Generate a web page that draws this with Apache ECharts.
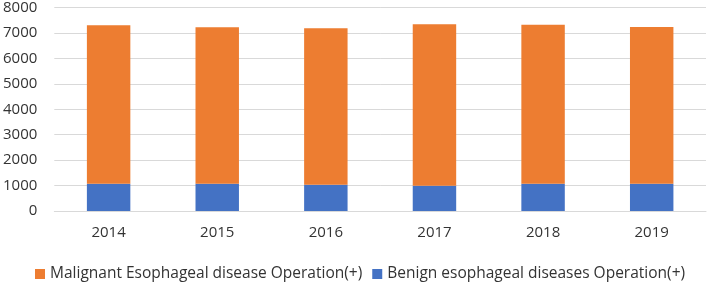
<!DOCTYPE html>
<html><head><meta charset="utf-8">
<script src="https://cdn.jsdelivr.net/npm/echarts@6/dist/echarts.min.js"></script>
<style>html,body{margin:0;padding:0;background:#fff}#c{width:708px;height:283px}</style>
</head><body><div id="c"></div>
<script>
const categories = ['2014','2015','2016','2017','2018','2019'];
const benign = [1070, 1070, 1030, 990, 1070, 1070];
const malignant = [6230, 6150, 6150, 6350, 6250, 6165];
const yTicks = [0, 1000, 2000, 3000, 4000, 5000, 6000, 7000, 8000];

const font = 'Open Sans';
const chart = echarts.init(document.getElementById('c'));
chart.setOption({
  animation: false,
  grid: { left: 52, right: 2, top: 6, bottom: 72, containLabel: false },
  legend: {
    top: 261, left: 30, itemWidth: 10, itemHeight: 10, itemGap: 10,
    textStyle: { fontFamily: font, fontSize: 15.5, color: '#333333' },
    icon: 'rect',
    data: ['Malignant Esophageal disease Operation(+)', 'Benign esophageal diseases Operation(+)']
  },
  xAxis: {
    type: 'category', data: categories,
    axisLine: { lineStyle: { color: '#d9d9d9', width: 1 } },
    axisTick: { show: false },
    axisLabel: { fontFamily: font, fontSize: 15, color: '#333333', margin: 14 }
  },
  yAxis: {
    type: 'value', min: yTicks[0], max: yTicks[yTicks.length-1], interval: 1000,
    axisLine: { show: false }, axisTick: { show: false },
    splitLine: { lineStyle: { color: '#d9d9d9', width: 1 } },
    axisLabel: { fontFamily: font, fontSize: 15, color: '#333333', margin: 17,
      formatter: v => String(v) }
  },
  series: [
    { name: 'Benign esophageal diseases Operation(+)', type: 'bar', stack: 't', data: benign,
      barWidth: '40%', itemStyle: { color: '#4472c4' } },
    { name: 'Malignant Esophageal disease Operation(+)', type: 'bar', stack: 't', data: malignant,
      barWidth: '40%', itemStyle: { color: '#ed7d31' } }
  ]
});
</script></body></html>
